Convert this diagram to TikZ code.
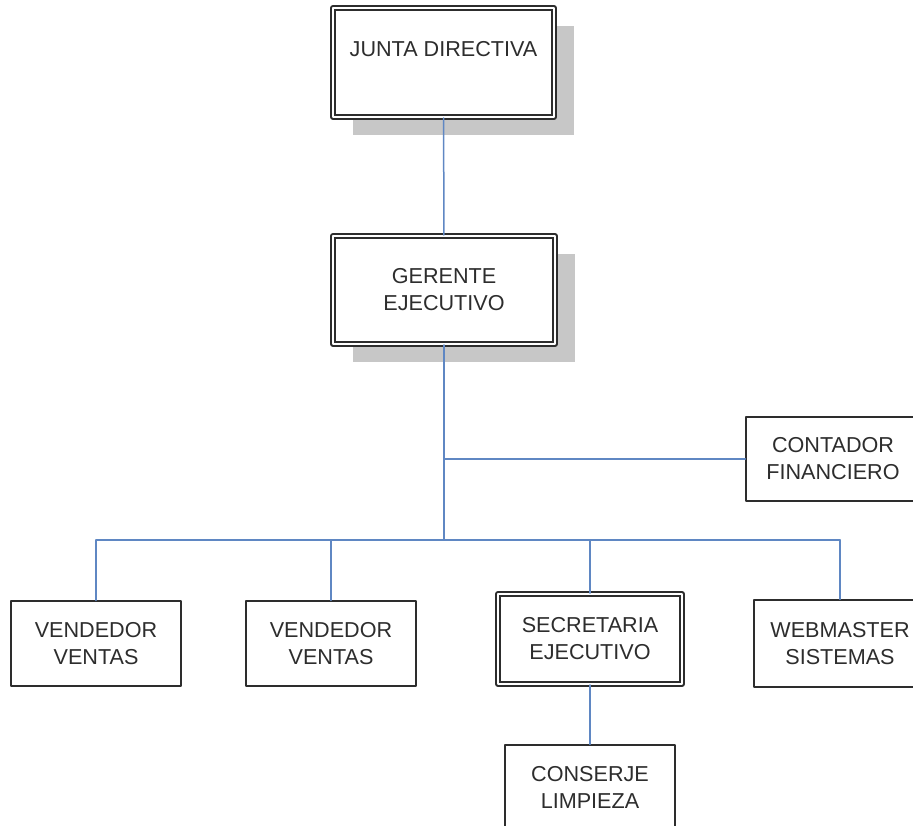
\documentclass[tikz,border=0pt]{standalone}
\usepackage{fontspec}
\setmainfont{Liberation Sans}
\usetikzlibrary{shadows}
\definecolor{linkblue}{RGB}{95,135,195}
\definecolor{boxline}{RGB}{45,45,45}
\definecolor{textgray}{RGB}{45,45,45}

\begin{document}
\begin{tikzpicture}[x=0.5pt, y=-0.5pt, line cap=round, line join=round,
  every node/.style={font=\fontsize{10.8}{13.5}\selectfont, text=textgray, align=center, inner sep=0pt},
  post/.style={draw=boxline, line width=0.7pt, fill=white},
  mainpost/.style={draw=boxline, line width=1pt, double=white, double distance=1pt, fill=white},
  boxshadow/.style={drop shadow={shadow xshift=10pt, shadow yshift=-9pt, fill=black!22, opacity=1}},
  link/.style={draw=linkblue, line width=0.75pt}]
  \useasboundingbox (0,0) rectangle (913,825);
  \clip (0,0) rectangle (913,825);

  % top of the chart
  \node[mainpost, boxshadow, minimum width=110.5pt, minimum height=54.5pt] (junta) at (443.5,62.5) {JUNTA DIRECTIVA\\ \mbox{}};
  \node[mainpost, boxshadow, minimum width=111pt, minimum height=54pt] (gerente) at (444,290) {GERENTE\\EJECUTIVO};
  \node[post, minimum width=87pt, minimum height=42pt] (contador) at (833,459) {CONTADOR\\FINANCIERO};

  % staff row
  \node[post, minimum width=85pt, minimum height=42.5pt] (vend1) at (96,643.5) {VENDEDOR\\VENTAS};
  \node[post, minimum width=85pt, minimum height=42.5pt] (vend2) at (331,643.5) {VENDEDOR\\VENTAS};
  \node[mainpost, minimum width=92pt, minimum height=45pt] (secretaria) at (590,639) {SECRETARIA\\EJECUTIVO};
  \node[post, minimum width=86pt, minimum height=43.5pt] (webmaster) at (840,643.5) {WEBMASTER\\SISTEMAS};
  \node[post, minimum width=85pt, minimum height=42.5pt] (conserje) at (590,787.5) {CONSERJE\\LIMPIEZA};

  % connectors
  \coordinate (tap) at (gerente.south |- contador.west);
  \coordinate (hub) at (444,540);
  \draw[link] (junta) -- (gerente);
  \draw[link] (gerente) -- (hub);
  \draw[link] (tap) -- (contador);
  \draw[link] (vend1.north |- hub) -- (webmaster.north |- hub);
  \foreach \n in {vend1,vend2,secretaria,webmaster}
    \draw[link] (\n.north |- hub) -- (\n.north);
  \draw[link] (secretaria) -- (conserje);
\end{tikzpicture}
\end{document}
